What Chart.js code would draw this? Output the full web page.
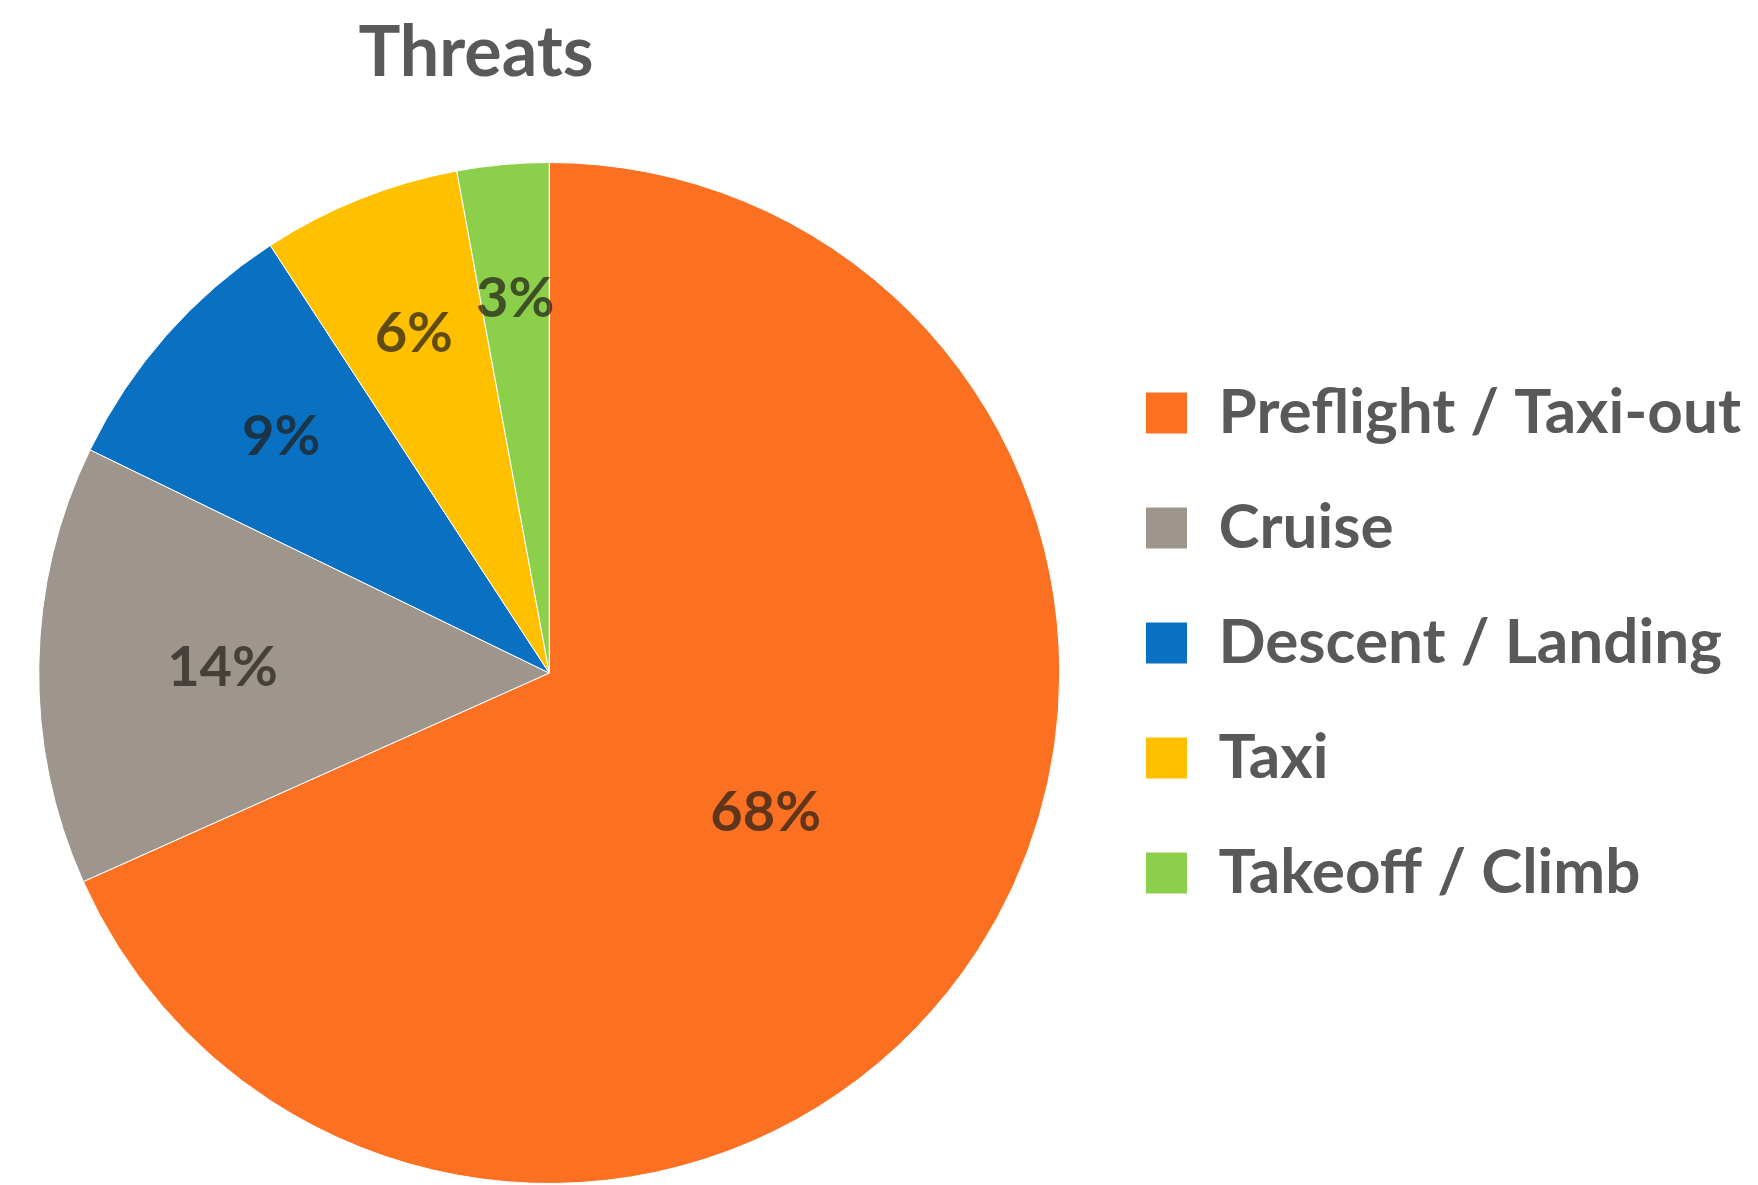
<!DOCTYPE html>
<html>
<head>
<meta charset="utf-8">
<title>Threats</title>
<script src="https://cdn.jsdelivr.net/npm/chart.js@4.4.1/dist/chart.umd.min.js"></script>
<style>
    html, body { margin: 0; padding: 0; background: #fff; }
    #wrap { position: relative; width: 1758px; height: 1185px; }
    #title {
        position: absolute; left: 0; top: 14px; width: 952px; margin: 0;
        text-align: center; font: bold 70px Lato, sans-serif; line-height: 1; color: #595959;
    }
</style>
</head>
<body>
<div id="wrap">
    <h1 id="title">Threats</h1>
    <canvas id="threats" width="1758" height="1185"></canvas>
</div>
<script>
const phases = ['Preflight / Taxi-out', 'Cruise', 'Descent / Landing', 'Taxi', 'Takeoff / Climb'];
const shares = [68.3, 13.9, 8.6, 6.3, 2.9];
const colors = ['#FB7021', '#9E968C', '#0A70C2', '#FFC000', '#8CCF4A'];
// how far out (share of radius) each percentage sits, like excel's best fit
const labelRadius = [0.505, 0.64, 0.70, 0.715, 0.735];

const sliceLabels = {
    id: 'sliceLabels',
    afterDatasetsDraw(chart) {
        const ctx = chart.ctx;
        const meta = chart.getDatasetMeta(0);
        ctx.save();
        ctx.font = 'bold 56px Lato, sans-serif';
        ctx.fillStyle = 'rgba(35, 30, 25, 0.72)';
        ctx.textAlign = 'center';
        ctx.textBaseline = 'middle';
        meta.data.forEach((arc, i) => {
            const p = arc.getProps(['x', 'y', 'startAngle', 'endAngle', 'outerRadius'], true);
            const mid = (p.startAngle + p.endAngle) / 2;
            const r = p.outerRadius * labelRadius[i];
            ctx.fillText(Math.round(shares[i]) + '%', p.x + Math.cos(mid) * r, p.y + Math.sin(mid) * r);
        });
        ctx.restore();
    }
};

const ctx = document.getElementById('threats');
new Chart(ctx, {
    type: 'pie',
    data: {
        labels: phases,
        datasets: [{
            data: shares,
            backgroundColor: colors,
            borderColor: '#ffffff',
            borderWidth: 1
        }]
    },
    options: {
        responsive: false,
        animation: false,
        layout: {
            padding: { top: 162, bottom: 1, left: 6, right: 7 }
        },
        plugins: {
            tooltip: { enabled: false },
            legend: {
                position: 'right',
                align: 'start',
                // empty title only pushes the items down a bit
                title: {
                    display: true,
                    text: '',
                    font: { size: 10, lineHeight: 1 },
                    padding: { top: 157, bottom: 0 }
                },
                labels: {
                    boxWidth: 42,
                    boxHeight: 42,
                    padding: 53,
                    color: '#595959',
                    font: { family: 'Lato', size: 62, weight: 'bold' }
                }
            }
        }
    },
    plugins: [sliceLabels]
});
</script>
</body>
</html>
